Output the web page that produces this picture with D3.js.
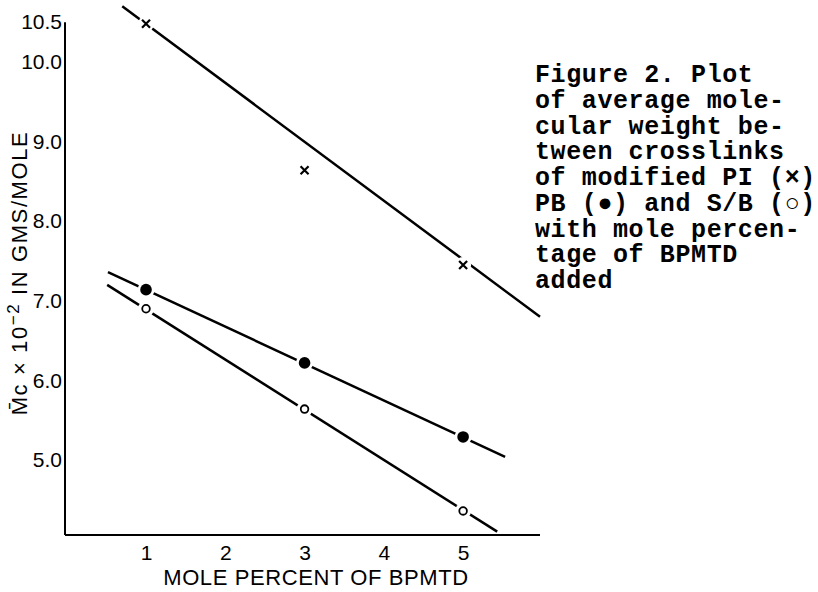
<!DOCTYPE html>
<html>
<head>
<meta charset="utf-8">
<script src="https://cdn.jsdelivr.net/npm/d3@7"></script>
<style>
  body { margin: 0; background: #fff; }
  svg { display: block; }
  .tick text { font-family: "Liberation Sans", Arial, sans-serif; font-size: 21px; fill: #000; }
</style>
</head>
<body>
<div id="chart"></div>
<script>
// mole percent of BPMTD
var moles = [1, 3, 5];
// Mc x 10^-2 for each polymer
var piValues = [10.48, 8.64, 7.45];
var pbValues = [7.14, 6.22, 5.29];
var sbValues = [6.90, 5.64, 4.36];
// hand drawn fit lines (start / end, in data units)
var piFit = [[0.70, 10.70], [5.97, 6.80]];
var pbFit = [[0.52, 7.36], [5.53, 5.04]];
var sbFit = [[0.51, 7.20], [5.43, 4.10]];

var xTicks = [1, 2, 3, 4, 5];
var yTicks = [5, 6, 7, 8, 9, 10, 10.5];

var caption = [
  "Figure 2. Plot",
  "of average mole-",
  "cular weight be-",
  "tween crosslinks",
  "of modified PI (\u00d7)",
  "PB (\u25cf) and S/B (\u25cb)",
  "with mole percen-",
  "tage of BPMTD",
  "added"
];

var width = 818, height = 592;
var margin = { top: 22, left: 65, bottom: 57, right: 278 };

var svg = d3.select("#chart")
  .append("svg")
  .attr("width", width)
  .attr("height", height);

svg.append("rect").attr("width", width).attr("height", height).attr("fill", "#fff");

var x = d3.scaleLinear()
  .domain([0, 5.97])
  .range([margin.left + 1.75, width - margin.right]);

var y = d3.scaleLinear()
  .domain([4.058, 10.5])
  .range([height - margin.bottom, margin.top + 0.2]);

// axes, no tick marks in the original
var xAxis = svg.append("g")
  .attr("transform", "translate(0," + (height - margin.bottom) + ")")
  .call(d3.axisBottom(x).tickValues(xTicks).tickSize(0).tickPadding(10).tickFormat(d3.format("d")));

var yAxis = svg.append("g")
  .attr("transform", "translate(" + margin.left + ",0)")
  .call(d3.axisLeft(y).tickValues(yTicks).tickSize(0).tickPadding(3).tickFormat(d3.format(".1f")));

// domain lines meet at the corner
xAxis.select(".domain").attr("d", "M" + margin.left + ",0H" + x.range()[1])
  .attr("stroke", "#000").attr("stroke-width", 2);
yAxis.select(".domain").attr("d", "M0," + y.range()[1] + "V" + y.range()[0])
  .attr("stroke", "#000").attr("stroke-width", 2);

// axis titles
svg.append("text")
  .attr("x", 316)
  .attr("y", 585)
  .attr("text-anchor", "middle")
  .style("font-family", "Liberation Sans, Arial, sans-serif")
  .style("font-size", "22px")
  .style("letter-spacing", "0.6px")
  .text("MOLE PERCENT OF BPMTD");

var yt = svg.append("text")
  .attr("transform", "translate(27,273) rotate(-90)")
  .attr("text-anchor", "middle")
  .style("font-family", "Liberation Sans, Arial, sans-serif")
  .style("font-size", "22px")
  .style("letter-spacing", "1.6px");
yt.append("tspan").text("M\u0304c \u00d7 10");
yt.append("tspan").attr("dy", -8).style("font-size", "17px").text("\u22122");
yt.append("tspan").attr("dy", 8).text(" IN GMS/MOLE");

// fit lines
var line = d3.line()
  .x(function (d) { return x(d[0]); })
  .y(function (d) { return y(d[1]); });

[piFit, pbFit, sbFit].forEach(function (f) {
  svg.append("path")
    .datum(f)
    .attr("fill", "none")
    .attr("stroke", "#000")
    .attr("stroke-width", 2.5)
    .attr("d", line);
});

// white gaps around the points
var pts = [];
moles.forEach(function (m, i) {
  pts.push({ x: m, v: piValues[i], s: "pi" });
  pts.push({ x: m, v: pbValues[i], s: "pb" });
  pts.push({ x: m, v: sbValues[i], s: "sb" });
});

svg.append("g")
  .selectAll("circle")
  .data(pts)
  .enter()
  .append("circle")
  .attr("cx", function (d) { return x(d.x); })
  .attr("cy", function (d) { return y(d.v); })
  .attr("r", function (d) { return d.s == "pb" ? 8.5 : 8; })
  .attr("fill", "#fff");

// PI crosses
svg.append("g")
  .selectAll("path")
  .data(pts.filter(function (d) { return d.s == "pi"; }))
  .enter()
  .append("path")
  .attr("transform", function (d) { return "translate(" + x(d.x) + "," + y(d.v) + ")"; })
  .attr("d", "M-4,-4L4,4M-4,4L4,-4")
  .attr("stroke", "#000")
  .attr("stroke-width", 2.2);

// PB filled dots
svg.append("g")
  .selectAll("circle")
  .data(pts.filter(function (d) { return d.s == "pb"; }))
  .enter()
  .append("circle")
  .attr("cx", function (d) { return x(d.x); })
  .attr("cy", function (d) { return y(d.v); })
  .attr("r", 5.8)
  .attr("fill", "#000");

// S/B open circles
svg.append("g")
  .selectAll("circle")
  .data(pts.filter(function (d) { return d.s == "sb"; }))
  .enter()
  .append("circle")
  .attr("cx", function (d) { return x(d.x); })
  .attr("cy", function (d) { return y(d.v); })
  .attr("r", 3.8)
  .attr("fill", "#fff")
  .attr("stroke", "#000")
  .attr("stroke-width", 1.8);

// caption, typewriter style
svg.append("g")
  .selectAll("text")
  .data(caption)
  .enter()
  .append("text")
  .attr("x", 535)
  .attr("y", function (d, i) { return 82 + i * 25.75; })
  .style("font-family", "Liberation Mono, Courier New, monospace")
  .style("font-size", "25px")
  .style("letter-spacing", "0.6px")
  .style("font-weight", "bold")
  .attr("xml:space", "preserve")
  .text(function (d) { return d; });
</script>
</body>
</html>
